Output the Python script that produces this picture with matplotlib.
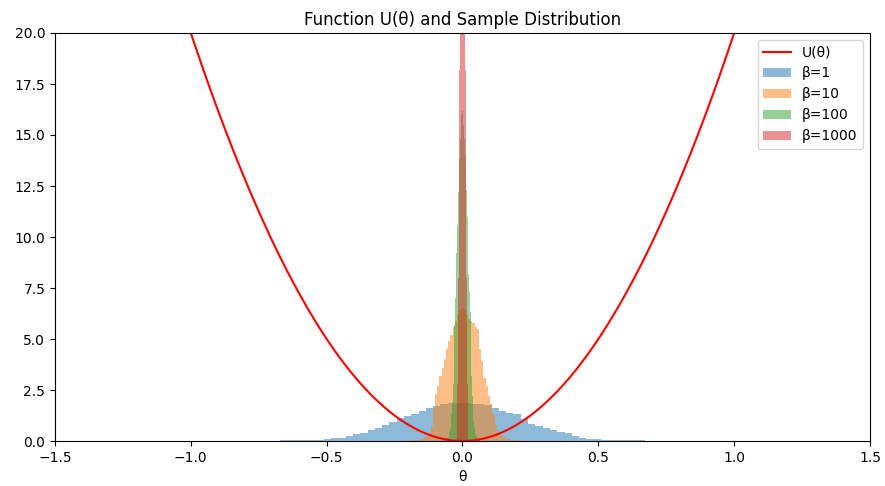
import numpy as np
import matplotlib
matplotlib.use("Agg")
import matplotlib.pyplot as plt

# ---- data ----
u_coef = 20.0  # U(theta) = 20 * theta^2

beta_labels = ["β=1", "β=10", "β=100", "β=1000"]
ranges = [(-0.672, 0.671), (-0.19, 0.215), (-0.064, 0.066), (-0.022, 0.022)]

h_beta1 = [0.05, 0.05, 0.05, 0.05, 0.05, 0.06, 0.09, 0.13, 0.15, 0.25,
           0.33, 0.41, 0.52, 0.62, 0.77, 0.95, 1.15, 1.22, 1.32, 1.45,
           1.62, 1.74, 1.80, 1.85, 1.88, 1.86, 1.83, 1.80, 1.76, 1.62,
           1.46, 1.38, 1.30, 1.10, 0.85, 0.72, 0.62, 0.52, 0.44, 0.38,
           0.24, 0.17, 0.12, 0.08, 0.06, 0.05, 0.05, 0.05, 0.05, 0.05]

h_beta10 = [0.03, 0.03, 0.05, 0.06, 0.08, 0.12, 0.18, 0.25, 0.40, 0.70,
            1.6, 2.3, 2.7, 3.2, 3.6, 4.0, 4.5, 4.9, 5.2, 5.6,
            5.9, 6.2, 6.4, 6.5, 6.4, 6.2, 6.0, 5.9, 5.8, 5.6,
            5.5, 4.5, 3.9, 3.1, 2.7, 2.2, 1.8, 1.3, 0.8, 0.5,
            0.35, 0.25, 0.18, 0.12, 0.08, 0.06, 0.05, 0.04, 0.03, 0.02]

h_beta100 = [0.05, 0.08, 0.11, 0.15, 0.22, 0.31, 0.45, 0.62, 0.9, 1.3,
             1.9, 2.8, 4.0, 5.7, 7.0, 8.0, 9.2, 10.6, 12.2, 13.0,
             13.8, 14.8, 15.4, 16.0, 16.2, 16.0, 15.5, 14.8, 14.0, 13.2,
             12.3, 11.0, 9.4, 8.2, 7.3, 6.3, 4.6, 3.2, 2.2, 1.5,
             1.0, 0.7, 0.5, 0.34, 0.24, 0.16, 0.11, 0.08, 0.05, 0.04]

h_beta1000 = [0.8, 1.1, 1.5, 2.1, 2.8, 3.7, 4.9, 6.3, 8.0, 10.1,
              12.5, 15.2, 18.2, 21.6, 25.2, 29.0, 33.0, 36.8, 40.7, 44.4,
              47.7, 50.4, 52.6, 54.1, 54.9, 54.9, 54.1, 52.6, 50.4, 47.7,
              44.4, 40.7, 36.8, 33.0, 29.0, 25.2, 21.6, 18.2, 15.2, 12.5,
              10.1, 8.0, 6.3, 4.9, 3.7, 2.8, 2.1, 1.5, 1.1, 0.8]

heights = [h_beta1, h_beta10, h_beta100, h_beta1000]

x_ticks = [-1.5, -1.0, -0.5, 0.0, 0.5, 1.0, 1.5]
y_ticks = [0.0, 2.5, 5.0, 7.5, 10.0, 12.5, 15.0, 17.5, 20.0]

# ---- plot ----
fig = plt.figure(figsize=(8.85, 4.86), dpi=100)
ax = fig.add_axes([55 / 885, 1 - 441 / 486, 815 / 885, 408 / 486])

theta = np.linspace(-1.5, 1.5, 1000)
ax.plot(theta, u_coef * theta ** 2, color="red", label="U(θ)")

for lab, (lo, hi), h in zip(beta_labels, ranges, heights):
    edges = np.linspace(lo, hi, len(h) + 1)
    centers = 0.5 * (edges[:-1] + edges[1:])
    ax.hist(centers, bins=edges, weights=h, alpha=0.5, label=lab)

ax.set_xlim(-1.5, 1.5)
ax.set_ylim(0, 20)
ax.set_xticks(x_ticks)
ax.set_yticks(y_ticks)
ax.set_xlabel("θ")
ax.set_title("Function U(θ) and Sample Distribution")
ax.legend(loc="upper right")

fig.savefig("out.png", dpi=100)
